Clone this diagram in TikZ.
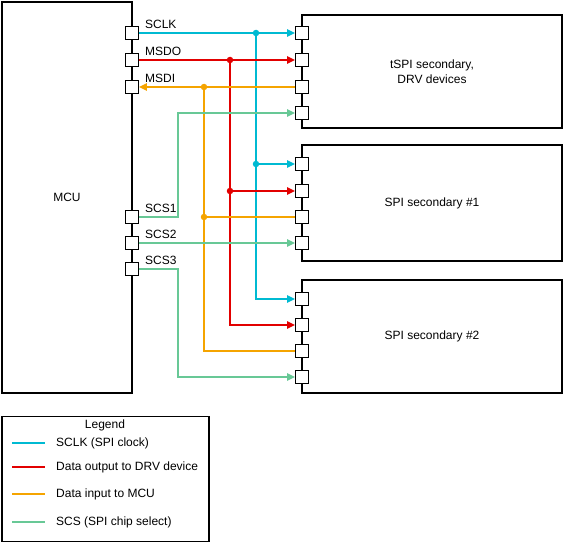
\documentclass[tikz,border=0pt]{standalone}
\usepackage{fontspec}
\setmainfont{Liberation Sans}
\usetikzlibrary{arrows.meta}

\definecolor{clkcyan}{RGB}{0,186,210}
\definecolor{dored}{RGB}{226,0,0}
\definecolor{diorange}{RGB}{245,164,0}
\definecolor{csgreen}{RGB}{104,200,150}

\begin{document}
\begin{tikzpicture}[x=1pt,y=-1pt,
	font=\fontsize{12}{14.5}\selectfont,
	blockbox/.style={draw, line width=1.4pt, inner sep=0pt},
	pinbox/.style={draw, fill=white, line width=0.9pt, minimum size=13pt, inner sep=0pt},
	sig/.style={line width=1.5pt},
	tip/.style={-{Triangle[length=8pt,width=7.5pt]}},
	dot/.style={circle, fill, inner sep=0pt, minimum size=6.5pt},
	pinlabel/.style={anchor=south west, inner sep=0pt, xshift=6pt, yshift=-3pt}]

	\useasboundingbox (0,0) rectangle (565,543);

	% blocks
	\node[blockbox, minimum width=130pt, minimum height=391pt] (mcu) at (67,197.5) {MCU};
	\node[blockbox, minimum width=260pt, minimum height=113pt, align=center] (drv) at (432,71.5) {tSPI secondary,\\DRV devices};
	\node[blockbox, minimum width=260pt, minimum height=116pt] (sec1) at (432,203) {SPI secondary \#1};
	\node[blockbox, minimum width=260pt, minimum height=113pt] (sec2) at (432,336.5) {SPI secondary \#2};

	% MCU pins
	\node[pinbox] (mclk) at (132,33) {};
	\node[pinbox] (mdo) at (132,60) {};
	\node[pinbox] (mdi) at (132,87) {};
	\node[pinbox] (mcs1) at (132,217) {};
	\node[pinbox] (mcs2) at (132,243) {};
	\node[pinbox] (mcs3) at (132,269) {};
	\node[pinlabel] at (mclk.north east) {SCLK};
	\node[pinlabel] at (mdo.north east) {MSDO};
	\node[pinlabel] at (mdi.north east) {MSDI};
	\node[pinlabel] at (mcs1.north east) {SCS1};
	\node[pinlabel] at (mcs2.north east) {SCS2};
	\node[pinlabel] at (mcs3.north east) {SCS3};

	% secondary pins
	\foreach \n/\y in {a/33,b/60,c/87,d/113}
		\node[pinbox] (drv\n) at (302,\y) {};
	\foreach \n/\y in {a/164,b/191,c/217,d/243}
		\node[pinbox] (sone\n) at (302,\y) {};
	\foreach \n/\y in {a/299,b/325,c/351,d/377}
		\node[pinbox] (stwo\n) at (302,\y) {};

	% bus junctions
	\node[dot, clkcyan] (jclk) at (256,33) {};
	\node[dot, clkcyan] (jclk1) at (256,164) {};
	\node[dot, dored] (jdo) at (230,60) {};
	\node[dot, dored] (jdo1) at (230,191) {};
	\node[dot, diorange] (jdi) at (204,87) {};
	\node[dot, diorange] (jdi1) at (204,217) {};

	% SCLK
	\draw[sig, tip, clkcyan] (mclk) -- (drva);
	\draw[sig, tip, clkcyan] (jclk1) -- (sonea);
	\draw[sig, tip, clkcyan] (jclk.center) |- (stwoa);

	% MSDO
	\draw[sig, tip, dored] (mdo) -- (drvb);
	\draw[sig, tip, dored] (jdo1) -- (soneb);
	\draw[sig, tip, dored] (jdo.center) |- (stwob);

	% MSDI
	\draw[sig, tip, diorange] (drvc) -- (mdi);
	\draw[sig, diorange] (jdi1) -- (sonec);
	\draw[sig, diorange] (jdi.center) |- (stwoc);

	% chip selects
	\draw[sig, tip, csgreen] (mcs1.east) -| (178,113) -- (drvd);
	\draw[sig, tip, csgreen] (mcs2) -- (soned);
	\draw[sig, tip, csgreen] (mcs3.east) -| (178,377) -- (stwod);

	% legend
	\node[draw, line width=1.4pt, minimum width=207pt, minimum height=125pt] (legend) at (105.5,479) {};
	\node (legtitle) at (105,425) {Legend};
	\foreach \c/\y/\t [count=\i] in {clkcyan/443/SCLK (SPI clock), dored/467/Data output to DRV device, diorange/494/Data input to MCU, csgreen/522/SCS (SPI chip select)} {
		\coordinate (la\i) at (12,\y);
		\coordinate (lb\i) at (45,\y);
		\draw[sig, \c] (la\i) -- (lb\i);
		\node[anchor=west, inner sep=0pt] (lt\i) at (56,\y) {\t};
	}
\end{tikzpicture}
\end{document}
